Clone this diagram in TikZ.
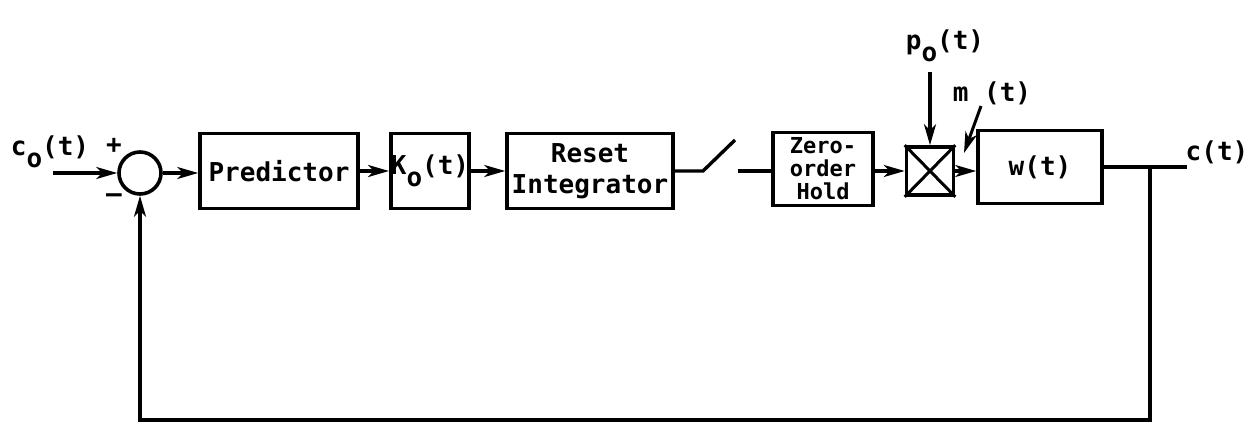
\documentclass[tikz,border=0pt]{standalone}
\usepackage{fontspec}
\newfontfamily\lbl{DejaVu Sans Mono}
\usetikzlibrary{arrows.meta}
\newcommand\sbo{\raisebox{-0.45em}{o}}
\begin{document}
\begin{tikzpicture}[x=1pt,y=-1pt,line width=3.4pt,
  txt/.style={font=\lbl\bfseries\fontsize{26}{31}\selectfont,inner sep=0pt,align=center},
  blk/.style={txt,draw,line width=3.6pt},
  arr/.style={-{Stealth[length=21pt,width=12pt,inset=6pt]}}]
\useasboundingbox (0,0) rectangle (1250,425);
\fill[white] (0,0) rectangle (1250,425);
% blocks
\node[draw,circle,line width=3.6pt,minimum size=42pt,inner sep=0pt] (sum) at (140,173) {};
\node[blk,minimum width=158pt,minimum height=75pt] (pred) at (279,171) {Predictor};
\node[blk,minimum width=75pt,minimum height=75pt] (k) at (430,171) {K\sbo(t)};
\node[blk,minimum width=166pt,minimum height=75pt] (ri) at (590,171) {Reset\\Integrator};
\node[blk,minimum width=100pt,minimum height=73pt,font=\lbl\bfseries\fontsize{22}{23}\selectfont] (zoh) at (823,169) {Zero-\\order\\Hold};
\node[draw,line width=3.6pt,minimum width=47pt,minimum height=48pt,inner sep=0pt] (mx) at (930,171) {};
\draw[line width=3pt] (mx.north west) -- (mx.south east) (mx.south west) -- (mx.north east);
\node[blk,minimum width=124pt,minimum height=73pt] (w) at (1040,167) {w(t)};
% labels
\node[txt] (lc0) at (50,152) {c\sbo(t)};
\node[txt] (lp) at (114,146) {+};
\node[txt] (lm) at (114,198) {\textendash};
\node[txt] (lpo) at (945,46) {p\sbo(t)};
\node[txt] (lmt) at (992,93) {m (t)};
\node[txt] (lc) at (1217,152) {c(t)};
% coordinates
\coordinate (in) at (53,173);
\coordinate (s1) at (703,171);
\coordinate (s2) at (735,140);
\coordinate (s3) at (738,171);
\coordinate (ptop) at (930,72);
\coordinate (mtop) at (981,106);
\coordinate (mend) at (964,153);
\coordinate (out) at (1187,167);
\coordinate (br) at (1150,167);
\coordinate (bot) at (1150,420);
% connectors
\draw[arr] (in) -- (sum.west);
\draw[arr] (sum.east) -- (sum.east -| pred.west);
\draw[arr] (pred.east) -- (k.west);
\draw[arr] (k.east) -- (ri.west);
\draw (ri.east) -- (s1) -- (s2);
\draw (s3) -- (s3 -| zoh.west);
\draw[arr] (mx.west -| zoh.east) -- (mx.west);
\draw[arr] (mx.east) -- (mx.east -| w.west);
\draw[arr] (ptop) -- (mx.north);
\draw[arr,line width=3pt] (mtop) -- (mend);
\draw (w.east) -- (out);
\draw[arr] (br) -- (bot) -| (sum.south);
\end{tikzpicture}
\end{document}
